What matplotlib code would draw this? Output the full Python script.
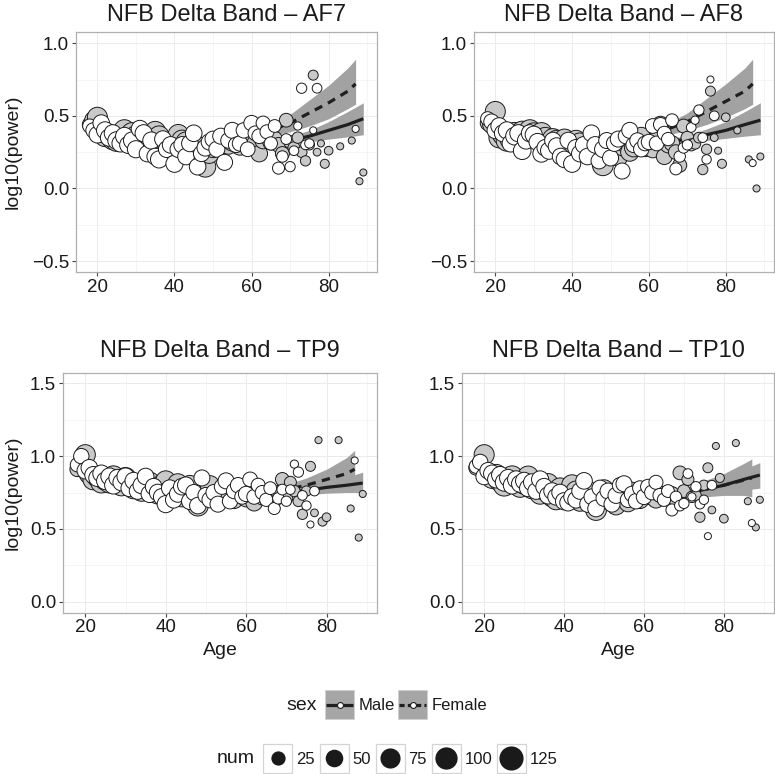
import numpy as np
import matplotlib
matplotlib.use("Agg")
import matplotlib.pyplot as plt
from matplotlib.patches import Rectangle

plt.rcParams['font.family'] = ['Liberation Sans', 'DejaVu Sans']
N = None

# --- data -------------------------------------------------------------
ages = list(range(18, 90))

num_m = [35, 60,
         85, 90, 95, 100, 100, 105, 100, 100, 95, 100,
         95, 95, 100, 90, 90, 95, 90, 85, 85, 90,
         85, 90, 95, 85, 85, 90, 80, 85, 95, 80,
         80, 75, 75, 70, 70, 65, 65, 60, 60, 60,
         55, 55, 50, 50, 45, 45, 40, 35, 30, 28,
         22, 18, 15, 12, 10, 10, 9, 3, 2, 6,
         5, N, N, 2, N, N, 2, N, 2, 2]
num_f = [30, 40,
         50, 50, 55, 55, 55, 60, 55, 60, 55, 55,
         55, 55, 55, 50, 55, 50, 55, 50, 50, 50,
         55, 50, 50, 50, 50, 50, 50, 45, 50, 45,
         45, 45, 45, 45, 40, 45, 40, 40, 40, 35,
         40, 35, 35, 30, 30, 25, 22, 18, 15, 12,
         10, 8, 4, 10, 8, 7, 2, 8, N, N,
         N, N, N, N, N, N, N, 2, N, N]

af7_m = [0.44, 0.47,
         0.49, 0.40, 0.36, 0.37, 0.34, 0.33, 0.34, 0.40, 0.35, 0.38,
         0.36, 0.33, 0.30, 0.28, 0.32, 0.39, 0.36, 0.31, 0.30, 0.28,
         0.30, 0.37, 0.33, 0.32, 0.25, 0.27, 0.29, 0.25, 0.15, 0.24,
         0.28, 0.29, 0.30, 0.33, 0.30, 0.32, 0.34, 0.29, 0.35, 0.33,
         0.36, 0.31, 0.24, 0.33, 0.36, 0.32, 0.34, 0.30, 0.24, 0.47,
         0.32, 0.28, 0.35, 0.25, 0.19, 0.30, 0.78, 0.25, 0.31, 0.17,
         0.26, N, N, 0.29, N, N, 0.33, N, 0.05, 0.11]
af7_f = [0.43, 0.40,
         0.37, 0.45, 0.40, 0.35, 0.38, 0.33, 0.31, 0.36, 0.30, 0.33,
         0.27, 0.41, 0.38, 0.24, 0.33, 0.22, 0.20, 0.34, 0.27, 0.30,
         0.17, 0.27, 0.30, 0.22, 0.31, 0.38, 0.15, 0.24, 0.28, 0.32,
         0.34, 0.27, 0.36, 0.18, 0.33, 0.40, 0.30, 0.31, 0.40, 0.27,
         0.45, 0.38, 0.36, 0.45, 0.39, 0.31, 0.43, 0.14, 0.22, 0.34,
         0.15, 0.26, 0.43, 0.69, 0.30, 0.31, 0.40, 0.69, N, N,
         N, N, N, N, N, N, N, 0.41, N, N]

af8_m = [0.45, 0.44,
         0.53, 0.35, 0.37, 0.33, 0.34, 0.38, 0.36, 0.39, 0.35, 0.40,
         0.38, 0.36, 0.38, 0.35, 0.30, 0.34, 0.33, 0.30, 0.34, 0.29,
         0.28, 0.33, 0.31, 0.27, 0.29, 0.25, 0.26, 0.22, 0.16, 0.24,
         0.27, 0.26, 0.22, 0.29, 0.31, 0.25, 0.28, 0.33, 0.36, 0.28,
         0.30, 0.27, 0.34, 0.44, 0.22, 0.30, 0.31, 0.25, 0.16, 0.43,
         0.35, 0.30, 0.31, 0.35, 0.13, 0.27, 0.67, 0.35, 0.26, 0.17,
         0.49, N, N, 0.40, N, N, 0.20, N, 0.00, 0.22]
af8_f = [0.48, 0.46,
         0.40, 0.43, 0.38, 0.40, 0.31, 0.36, 0.38, 0.26, 0.33, 0.38,
         0.37, 0.32, 0.24, 0.28, 0.26, 0.33, 0.29, 0.22, 0.20, 0.33,
         0.17, 0.28, 0.24, 0.30, 0.22, 0.38, 0.30, 0.19, 0.27, 0.33,
         0.21, 0.31, 0.34, 0.12, 0.36, 0.40, 0.30, 0.33, 0.27, 0.31,
         0.32, 0.43, 0.31, 0.44, 0.38, 0.34, 0.47, 0.135, 0.22, 0.28,
         0.30, 0.42, 0.47, 0.54, 0.35, 0.20, 0.75, 0.50, N, N,
         N, N, N, N, N, N, N, 0.175, N, N]

tp9_m = [0.91, 0.95,
         1.01, 0.88, 0.84, 0.86, 0.82, 0.84, 0.82, 0.86, 0.83, 0.80,
         0.85, 0.82, 0.78, 0.80, 0.76, 0.80, 0.82, 0.77, 0.74, 0.80,
         0.83, 0.76, 0.77, 0.81, 0.72, 0.74, 0.80, 0.71, 0.66, 0.73,
         0.77, 0.80, 0.72, 0.71, 0.76, 0.74, 0.73, 0.70, 0.75, 0.77,
         0.71, 0.74, 0.68, 0.76, 0.72, 0.74, 0.73, 0.70, 0.75, 0.84,
         0.71, 0.82, 0.76, 0.69, 0.60, 0.76, 0.93, 0.61, 1.11, 0.55,
         0.58, N, N, 1.11, N, N, 0.64, N, 0.44, 0.74]
tp9_f = [0.94, 1.00,
         0.90, 0.92, 0.87, 0.85, 0.88, 0.83, 0.86, 0.80, 0.85, 0.82,
         0.86, 0.78, 0.83, 0.76, 0.80, 0.86, 0.74, 0.79, 0.75, 0.72,
         0.67, 0.78, 0.70, 0.74, 0.79, 0.80, 0.69, 0.75, 0.66, 0.85,
         0.73, 0.70, 0.75, 0.67, 0.79, 0.83, 0.69, 0.76, 0.80, 0.72,
         0.74, 0.84, 0.72, 0.80, 0.75, 0.70, 0.78, 0.64, 0.71, 0.77,
         0.69, 0.77, 0.945, 0.89, 0.73, 0.66, 0.53, 0.76, N, N,
         N, N, N, N, N, N, N, 0.97, N, N]

tp10_m = [0.92, 0.94,
          1.01, 0.88, 0.85, 0.87, 0.83, 0.80, 0.83, 0.86, 0.82, 0.79,
          0.81, 0.86, 0.78, 0.80, 0.74, 0.77, 0.81, 0.72, 0.70, 0.78,
          0.74, 0.71, 0.80, 0.76, 0.69, 0.72, 0.76, 0.68, 0.63, 0.72,
          0.77, 0.70, 0.74, 0.66, 0.72, 0.75, 0.68, 0.76, 0.72, 0.70,
          0.74, 0.77, 0.72, 0.70, 0.74, 0.72, 0.71, 0.74, 0.70, 0.885,
          0.76, 0.84, 0.72, 0.73, 0.58, 0.80, 0.92, 0.63, 1.07, 0.85,
          0.57, N, N, 1.09, N, N, 0.69, N, 0.51, 0.70]
tp10_f = [0.93, 0.96,
          0.86, 0.90, 0.88, 0.84, 0.87, 0.82, 0.85, 0.80, 0.84, 0.81,
          0.83, 0.78, 0.82, 0.76, 0.84, 0.79, 0.73, 0.76, 0.72, 0.75,
          0.69, 0.68, 0.72, 0.70, 0.76, 0.83, 0.67, 0.72, 0.64, 0.78,
          0.71, 0.76, 0.67, 0.73, 0.80, 0.81, 0.70, 0.74, 0.69, 0.78,
          0.72, 0.79, 0.75, 0.82, 0.73, 0.70, 0.76, 0.63, 0.72, 0.66,
          0.675, 0.88, 0.72, 0.79, 0.67, 0.70, 0.45, 0.80, N, N,
          N, N, N, N, N, N, N, 0.54, N, N]

# smooth fits (read at these ages) with confidence band
fit_age_m = [18, 25, 30, 35, 40, 45, 50, 55, 60, 65, 70, 75, 80, 85, 89]
fit_age_f = [18, 25, 30, 35, 40, 45, 50, 55, 60, 65, 70, 75, 80, 85, 87]

af7_fit_m = [0.44, 0.37, 0.33, 0.30, 0.28, 0.27, 0.28, 0.30, 0.31, 0.32, 0.33, 0.36, 0.40, 0.44, 0.48]
af7_lo_m = [0.41, 0.35, 0.315, 0.29, 0.27, 0.26, 0.27, 0.29, 0.295, 0.30, 0.31, 0.32, 0.34, 0.355, 0.37]
af7_hi_m = [0.47, 0.39, 0.345, 0.31, 0.29, 0.28, 0.29, 0.31, 0.325, 0.34, 0.36, 0.40, 0.46, 0.53, 0.59]
af7_fit_f = [0.42, 0.36, 0.32, 0.29, 0.27, 0.27, 0.29, 0.32, 0.36, 0.40, 0.45, 0.52, 0.59, 0.67, 0.72]
af7_lo_f = [0.39, 0.34, 0.305, 0.275, 0.255, 0.255, 0.275, 0.30, 0.335, 0.365, 0.39, 0.43, 0.48, 0.55, 0.58]
af7_hi_f = [0.45, 0.38, 0.335, 0.305, 0.285, 0.285, 0.305, 0.34, 0.385, 0.435, 0.51, 0.61, 0.71, 0.83, 0.89]

af8_fit_m = [0.47, 0.37, 0.33, 0.30, 0.28, 0.27, 0.27, 0.28, 0.30, 0.32, 0.34, 0.37, 0.40, 0.44, 0.47]
af8_lo_m = [0.44, 0.35, 0.315, 0.29, 0.27, 0.26, 0.26, 0.27, 0.285, 0.30, 0.315, 0.33, 0.345, 0.36, 0.37]
af8_hi_m = [0.50, 0.39, 0.345, 0.31, 0.29, 0.28, 0.28, 0.29, 0.315, 0.34, 0.365, 0.41, 0.46, 0.53, 0.59]
af8_fit_f = [0.47, 0.36, 0.32, 0.29, 0.27, 0.27, 0.29, 0.32, 0.36, 0.41, 0.46, 0.53, 0.60, 0.67, 0.72]
af8_lo_f = [0.44, 0.34, 0.305, 0.275, 0.255, 0.255, 0.275, 0.30, 0.335, 0.37, 0.40, 0.44, 0.49, 0.55, 0.58]
af8_hi_f = [0.50, 0.38, 0.335, 0.305, 0.285, 0.285, 0.305, 0.34, 0.385, 0.45, 0.52, 0.62, 0.72, 0.83, 0.89]

tp9_fit_m = [0.93, 0.86, 0.82, 0.79, 0.76, 0.74, 0.73, 0.73, 0.73, 0.735, 0.745, 0.765, 0.785, 0.80, 0.815]
tp9_lo_m = [0.91, 0.845, 0.81, 0.78, 0.75, 0.73, 0.72, 0.72, 0.72, 0.72, 0.725, 0.735, 0.745, 0.75, 0.75]
tp9_hi_m = [0.95, 0.875, 0.83, 0.80, 0.77, 0.75, 0.74, 0.74, 0.74, 0.75, 0.765, 0.795, 0.825, 0.855, 0.89]
tp9_fit_f = [0.94, 0.87, 0.83, 0.80, 0.77, 0.75, 0.74, 0.735, 0.74, 0.75, 0.77, 0.80, 0.84, 0.88, 0.91]
tp9_lo_f = [0.92, 0.855, 0.815, 0.785, 0.755, 0.735, 0.725, 0.72, 0.72, 0.725, 0.735, 0.75, 0.77, 0.79, 0.80]
tp9_hi_f = [0.96, 0.885, 0.845, 0.815, 0.785, 0.765, 0.755, 0.75, 0.76, 0.775, 0.805, 0.85, 0.91, 0.99, 1.04]

tp10_fit_m = [0.93, 0.86, 0.82, 0.79, 0.76, 0.74, 0.73, 0.72, 0.72, 0.725, 0.74, 0.77, 0.80, 0.84, 0.87]
tp10_lo_m = [0.91, 0.845, 0.805, 0.775, 0.745, 0.725, 0.715, 0.705, 0.70, 0.70, 0.71, 0.725, 0.745, 0.765, 0.78]
tp10_hi_m = [0.95, 0.875, 0.835, 0.805, 0.775, 0.755, 0.745, 0.735, 0.74, 0.75, 0.77, 0.815, 0.855, 0.91, 0.955]
tp10_fit_f = [0.93, 0.86, 0.82, 0.79, 0.76, 0.74, 0.73, 0.72, 0.72, 0.725, 0.74, 0.77, 0.80, 0.835, 0.85]
tp10_lo_f = [0.91, 0.845, 0.805, 0.775, 0.745, 0.725, 0.715, 0.705, 0.70, 0.70, 0.70, 0.72, 0.73, 0.73, 0.72]
tp10_hi_f = [0.95, 0.875, 0.835, 0.805, 0.775, 0.755, 0.745, 0.735, 0.74, 0.75, 0.78, 0.83, 0.88, 0.95, 0.98]

titles = ["NFB Delta Band \u2013 AF7", "NFB Delta Band \u2013 AF8",
          "NFB Delta Band \u2013 TP9", "NFB Delta Band \u2013 TP10"]
sex_labels = ["Male", "Female"]
num_breaks = [25, 50, 75, 100, 125]
top_yticks = [-0.5, 0.0, 0.5, 1.0]
bot_yticks = [0.0, 0.5, 1.0, 1.5]
xticks = [20, 40, 60, 80]

# --- style -------------------------------------------------------------
W, H = 775, 774
MALE_FILL = '#c9c9c9'
FEMALE_FILL = '#ffffff'
BAND = '#a2a2a2'
LINE = '#1f1f1f'
DASH = (2.6, 2.0)
TXT = '#1a1a1a'


def dot_px(n):
    # area-style size scale, diameter in pixels
    return 6.5 + 18 * np.sqrt((np.asarray(n, dtype=float) - 1) / 129)


def px_axes(fig, l, t, r, b):
    return fig.add_axes([l / W, 1 - b / H, (r - l) / W, (b - t) / H])


fig = plt.figure(figsize=(W / 100, H / 100), dpi=100)

panels = [
    (px_axes(fig, 76, 32.3, 377, 272), af7_m, af7_f,
     (af7_fit_m, af7_lo_m, af7_hi_m), (af7_fit_f, af7_lo_f, af7_hi_f), top_yticks, (-0.575, 1.075)),
    (px_axes(fig, 474, 32.3, 774, 272), af8_m, af8_f,
     (af8_fit_m, af8_lo_m, af8_hi_m), (af8_fit_f, af8_lo_f, af8_hi_f), top_yticks, (-0.575, 1.075)),
    (px_axes(fig, 63, 372.5, 377, 612.5), tp9_m, tp9_f,
     (tp9_fit_m, tp9_lo_m, tp9_hi_m), (tp9_fit_f, tp9_lo_f, tp9_hi_f), bot_yticks, (-0.075, 1.575)),
    (px_axes(fig, 462, 372.5, 774, 612.5), tp10_m, tp10_f,
     (tp10_fit_m, tp10_lo_m, tp10_hi_m), (tp10_fit_f, tp10_lo_f, tp10_hi_f), bot_yticks, (-0.075, 1.575)),
]

x = np.array(ages, dtype=float)
nm = np.array(num_m, dtype=float)
nf = np.array(num_f, dtype=float)

for i, (ax, ym, yf, fm, ff, yt, ylim) in enumerate(panels):
    ym = np.array(ym, dtype=float)
    yf = np.array(yf, dtype=float)

    ax.fill_between(fit_age_f, ff[1], ff[2], color=BAND, lw=0, zorder=1)
    ax.fill_between(fit_age_m, fm[1], fm[2], color=BAND, lw=0, zorder=1)
    ax.plot(fit_age_m, fm[0], color=LINE, lw=2.3, zorder=2, solid_capstyle='butt')
    ax.plot(fit_age_f, ff[0], color=LINE, lw=2.3, zorder=2, dashes=DASH)

    for y, n, fill in ((ym, nm, MALE_FILL), (yf, nf, FEMALE_FILL)):
        ok = ~np.isnan(y) & ~np.isnan(n)
        s = (0.72 * (dot_px(n[ok]) - 1)) ** 2
        ax.scatter(x[ok], y[ok], s=s, c=fill, edgecolors='#1a1a1a',
                   linewidths=0.7, zorder=3)

    ax.set_xlim(14.45, 92.55)
    ax.set_ylim(*ylim)
    ax.set_xticks(xticks)
    ax.set_xticks([30, 50, 70, 90], minor=True)
    ax.set_yticks(yt)
    ax.set_yticks([v + 0.25 for v in yt[:-1]], minor=True)
    ax.set_yticklabels([f"{v:.1f}".replace('-', '\u2212') for v in yt])
    ax.grid(which='major', color='#ebebeb', lw=0.7)
    ax.grid(which='minor', color='#f2f2f2', lw=0.5)
    ax.set_axisbelow(True)
    for sp in ax.spines.values():
        sp.set_color('#b0b0b0')
        sp.set_linewidth(0.9)
    ax.tick_params(which='major', length=3, width=0.8, color='#444444',
                   labelsize=13.5, labelcolor=TXT, pad=2)
    ax.tick_params(which='minor', length=0)
    ax.set_title(titles[i], fontsize=17, color=TXT,
                 pad=8.4 if i < 2 else 11.4)
    if i % 2 == 0:
        ax.set_ylabel('log10(power)', fontsize=14, color=TXT)
        ax.yaxis.set_label_coords(-0.179 if i == 0 else -0.1306, 0.5)
    if i >= 2:
        ax.set_xlabel('Age', fontsize=14, color=TXT)
        ax.xaxis.set_label_coords(0.5, -0.123)

# --- legends (pixel overlay) ---------------------------------------------
lax = fig.add_axes([0, 0, 1, 1])
lax.set_xlim(0, W)
lax.set_ylim(H, 0)
lax.axis('off')

lax.text(286.7, 705.5, 'sex', fontsize=14, va='center', ha='left', color=TXT)
for k, (lab, kx) in enumerate(zip(sex_labels, [325, 398.3])):
    lax.add_patch(Rectangle((kx, 690), 29, 29, facecolor='#a6a6a6',
                            edgecolor='#d0d0d0', lw=0.6))
    ls = dict(dashes=(1.6, 1.0)) if k == 1 else {}
    lax.plot([kx + 1, kx + 28], [704.5, 704.5], color=LINE, lw=2.3, **ls,
             solid_capstyle='butt')
    lax.scatter([kx + 14.5], [704.5], s=18, c='white', edgecolors=LINE,
                linewidths=0.8, zorder=5)
    lax.text(kx + 33.3, 705.5, lab, fontsize=12, va='center', ha='left',
             color=TXT)

lax.text(216.7, 758.5, 'num', fontsize=14, va='center', ha='left', color=TXT)
for br, kx in zip(num_breaks, [263.3, 319.5, 375.5, 431.6, 496.7]):
    lax.add_patch(Rectangle((kx, 743.5), 29, 29.5, facecolor='white',
                            edgecolor='#d4d4d4', lw=0.9))
    lax.scatter([kx + 14.5], [758.2], s=(0.72 * dot_px(br)) ** 2,
                c='#1a1a1a', lw=0, zorder=5)
    lax.text(kx + 33, 759, str(br), fontsize=12, va='center', ha='left',
             color=TXT)

fig.savefig('out.png', dpi=100)
